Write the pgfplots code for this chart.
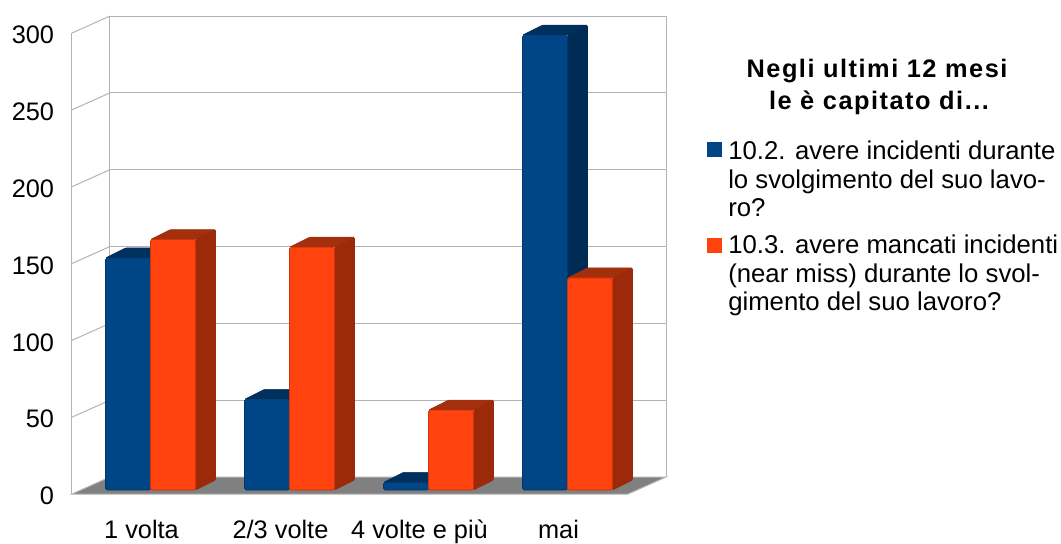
\documentclass[border=0pt]{standalone}
\usepackage{fontspec}
\setmainfont{Liberation Sans}
\newfontfamily\titlefont[LetterSpace=6]{Liberation Sans}
\usepackage{pgfplots}
\usepackage{pgfplotstable}
\pgfplotsset{compat=1.18}

\definecolor{blueFront}{HTML}{004586}
\definecolor{blueSide}{HTML}{002B55}
\definecolor{blueTop}{HTML}{00305E}
\definecolor{orangeFront}{HTML}{FF420E}
\definecolor{orangeSide}{HTML}{9C2A0A}
\definecolor{orangeTop}{HTML}{A32F0D}
\definecolor{wallLine}{HTML}{B3B3B3}
\definecolor{floorGrey}{HTML}{808080}

% answers per frequency class
\pgfplotstableread{
x blue orange
0 151 163
1 59  158
2 5   52
3 296 138
}\answers

% an invisible mark: the scatter code below draws the bar's depth faces
\pgfdeclareplotmark{depthfaces}{}

% top and right-hand faces of a 3D bar
% #1 column, #2 left edge, #3 right edge, #4 side colour, #5 top colour
\pgfplotsset{
  bar depth/.style n args={5}{
    scatter, only marks, mark=depthfaces,
    visualization depends on={\thisrow{#1} \as \barvalue},
    scatter/@pre marker code/.code={%
      \pgfmathsetlengthmacro\barh{\barvalue*1.1525pt}%
      \fill[#5, rounded corners=0.8pt] (#2,0pt) -- ++(15pt,7.5pt) -- ++(33.75pt,0pt) -- (#3,0pt) -- cycle;
      \fill[#4, rounded corners=0.8pt] (#3,0pt) -- ++(15pt,7.5pt) -- ++(0pt,-\barh) -- (#3,-\barh) -- cycle;
    },
    scatter/@post marker code/.code={},
  },
  front bar/.style n args={2}{
    ybar, bar width=33.75pt, bar shift=#1,
    fill=#2, draw=#2!80!black, line width=0.5pt, rounded corners=1.2pt,
  },
}

\begin{document}
\begin{tikzpicture}
\begin{scope}[x=0.75pt, y=-0.75pt]
  \path[use as bounding box] (0,0) rectangle (1061,541);
\end{scope}

\begin{axis}[
  at={(60.75pt,-367.5pt)}, anchor=south west,
  scale only axis, width=417pt, height=345.75pt,
  xmin=-0.5, xmax=3.5, ymin=0, ymax=300,
  clip=false, clip mode=individual,
  axis line style={draw=none},
  tick style={draw=none},
  major tick length=0pt,
  xtick={0,1,2,3},
  xticklabels={1 volta, 2/3 volte, 4 volte e più, mai},
  ytick={0,50,...,300},
  /pgf/number format/assume math mode=true,
  yticklabel style={anchor=east, inner sep=0pt, xshift=-20pt, yshift=-4.5pt,
    font=\fontsize{19}{19}\selectfont},
  xticklabel style={anchor=base, inner sep=0pt, xshift=-6.75pt, yshift=-36pt,
    font=\fontsize{19}{19}\selectfont},
]
  % floor
  \fill[floorGrey, draw=wallLine, line width=0.75pt]
    ([shift={(-6.75pt,-3pt)}]axis cs:-0.5,0) -- ([shift={(-6.75pt,-3pt)}]axis cs:3.5,0)
    -- ([shift={(21.75pt,9.75pt)}]axis cs:3.5,0) -- ([shift={(21.75pt,9.75pt)}]axis cs:-0.5,0) -- cycle;
  % back wall and left wall
  \pgfplotsinvokeforeach{50,100,150,200,250,300}{
    \draw[wallLine, line width=0.75pt]
      ([shift={(21.75pt,9.75pt)}]axis cs:-0.5,#1) -- ([shift={(21.75pt,9.75pt)}]axis cs:3.5,#1);
    \draw[wallLine, line width=0.75pt]
      ([shift={(-6.75pt,-3pt)}]axis cs:-0.5,#1) -- ([shift={(21.75pt,9.75pt)}]axis cs:-0.5,#1);
  }
  \draw[wallLine, line width=0.75pt]
    ([shift={(21.75pt,9.75pt)}]axis cs:-0.5,0) -- ([shift={(21.75pt,9.75pt)}]axis cs:-0.5,300);
  \draw[wallLine, line width=0.75pt]
    ([shift={(21.75pt,9.75pt)}]axis cs:3.5,0) -- ([shift={(21.75pt,9.75pt)}]axis cs:3.5,300);
  \draw[wallLine, line width=0.75pt]
    ([shift={(-6.75pt,-3pt)}]axis cs:-0.5,0) -- ([shift={(-6.75pt,-3pt)}]axis cs:-0.5,300);

  % 10.2 incidents
  \addplot[bar depth={blue}{-33.75pt}{0pt}{blueSide}{blueTop}] table[x=x, y=blue] {\answers};
  \addplot[front bar={-16.875pt}{blueFront}] table[x=x, y=blue] {\answers};
  % 10.3 near misses
  \addplot[bar depth={orange}{0pt}{33.75pt}{orangeSide}{orangeTop}] table[x=x, y=orange] {\answers};
  \addplot[front bar={16.875pt}{orangeFront}] table[x=x, y=orange] {\answers};
\end{axis}

% legend
\begin{scope}[x=0.75pt, y=-0.75pt]
  \node[anchor=base, inner sep=0pt, font=\titlefont\bfseries\fontsize{19}{19}\selectfont]
    at (877,78) {Negli ultimi 12 mesi};
  \node[anchor=base, inner sep=0pt, font=\titlefont\bfseries\fontsize{19}{19}\selectfont]
    at (879,110) {le è capitato di...};

  \fill[blueFront] (707,142) rectangle (722,157);
  \fill[orangeFront] (707,238) rectangle (722,253);

  \begin{scope}[every node/.style={anchor=base west, inner sep=0pt, font=\fontsize{19.3}{19.3}\selectfont}]
    \node at (728,159.5) {10.2. avere incidenti durante};
    \node at (728,188) {lo svolgimento del suo lavo-};
    \node at (728,216.5) {ro?};
    \node at (728,253.5) {10.3. avere mancati incidenti};
    \node at (728,282) {(near miss) durante lo svol-};
    \node at (728,310.5) {gimento del suo lavoro?};
  \end{scope}
\end{scope}
\end{tikzpicture}
\end{document}
